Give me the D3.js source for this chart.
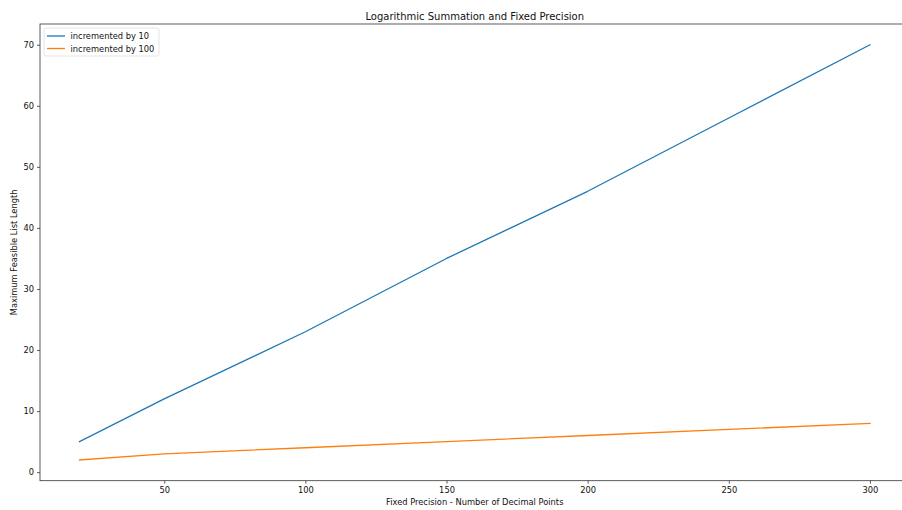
<!DOCTYPE html>
<html>
<head>
<meta charset="utf-8">
<script src="https://cdn.jsdelivr.net/npm/d3@7"></script>
<style>
  html, body { margin: 0; padding: 0; background: #fff; }
  svg { display: block; font-family: "DejaVu Sans", sans-serif; }
</style>
</head>
<body>
<svg id="chart" width="902" height="510"></svg>
<script>
// Decimal precision settings tested
const precision = [20, 50, 100, 150, 200, 250, 300];
// Longest list that still sums correctly, per increment
const incBy10 = [5, 12, 23, 35, 46, 58, 70];
const incBy100 = [2, 3, 4, 5, 6, 7, 8];
const seriesNames = ["incremented by 10", "incremented by 100"];
const seriesColors = ["#1f77b4", "#ff7f0e"];
const xTicks = [50, 100, 150, 200, 250, 300];
const yTicks = [0, 10, 20, 30, 40, 50, 60, 70];

const svg = d3.select("#chart");
const plotLeft = 40, plotRight = 909.5, plotTop = 24, plotBottom = 480.7;

// 5% padding around the data range on both axes
const xMin = d3.min(precision), xMax = d3.max(precision);
const xPad = (xMax - xMin) * 0.05;
const allY = incBy10.concat(incBy100);
const yMin = d3.min(allY), yMax = d3.max(allY);
const yPad = (yMax - yMin) * 0.05;

const x = d3.scaleLinear().domain([xMin - xPad, xMax + xPad]).range([plotLeft, plotRight]);
const y = d3.scaleLinear().domain([yMin - yPad, yMax + yPad]).range([plotBottom, plotTop]);

const line = d3.line().x((d, i) => x(precision[i])).y(d => y(d));

[incBy10, incBy100].forEach((vals, k) => {
  svg.append("path")
    .datum(vals)
    .attr("d", line)
    .attr("fill", "none")
    .attr("stroke", seriesColors[k])
    .attr("stroke-width", 1.3)
    .attr("stroke-linejoin", "round")
    .attr("stroke-linecap", "square");
});

// Frame
svg.append("rect")
  .attr("x", plotLeft).attr("y", plotTop)
  .attr("width", plotRight - plotLeft).attr("height", plotBottom - plotTop)
  .attr("fill", "none").attr("stroke", "#333").attr("stroke-width", 0.8);

// Axes
const xAxis = svg.append("g").attr("transform", `translate(0,${plotBottom})`)
  .call(d3.axisBottom(x).tickValues(xTicks).tickSize(3).tickPadding(3).tickFormat(d3.format("d")));
const yAxis = svg.append("g").attr("transform", `translate(${plotLeft},0)`)
  .call(d3.axisLeft(y).tickValues(yTicks).tickSize(3).tickPadding(3).tickFormat(d3.format("d")));
[xAxis, yAxis].forEach(g => {
  g.select(".domain").remove();
  g.selectAll("line").attr("stroke", "#333").attr("stroke-width", 0.8);
  g.selectAll("text").attr("fill", "#111").style("font-size", "8.3px").style("font-family", "DejaVu Sans, sans-serif");
});

// Titles
svg.append("text")
  .attr("x", (plotLeft + plotRight) / 2).attr("y", 19.5)
  .attr("text-anchor", "middle").style("font-size", "10px").attr("fill", "#111")
  .text("Logarithmic Summation and Fixed Precision");
svg.append("text")
  .attr("x", (plotLeft + plotRight) / 2).attr("y", 505)
  .attr("text-anchor", "middle").style("font-size", "8.3px").attr("fill", "#111")
  .text("Fixed Precision - Number of Decimal Points");
svg.append("text")
  .attr("transform", `translate(17,${(plotTop + plotBottom) / 2}) rotate(-90)`)
  .attr("text-anchor", "middle").style("font-size", "8.3px").attr("fill", "#111")
  .text("Maximum Feasible List Length");

// Legend
const lg = svg.append("g").attr("transform", "translate(44,28)");
lg.append("rect")
  .attr("x", 0).attr("y", 0).attr("width", 115).attr("height", 28).attr("rx", 2)
  .attr("fill", "#fff").attr("fill-opacity", 0.8)
  .attr("stroke", "#ddd").attr("stroke-width", 0.8);
seriesNames.forEach((name, i) => {
  const yy = 8 + i * 12.5;
  lg.append("line")
    .attr("x1", 3).attr("x2", 21).attr("y1", yy).attr("y2", yy)
    .attr("stroke", seriesColors[i]).attr("stroke-width", 1.3);
  lg.append("text")
    .attr("x", 26.5).attr("y", yy + 3)
    .style("font-size", "8.3px").attr("fill", "#111")
    .text(name);
});
</script>
</body>
</html>
